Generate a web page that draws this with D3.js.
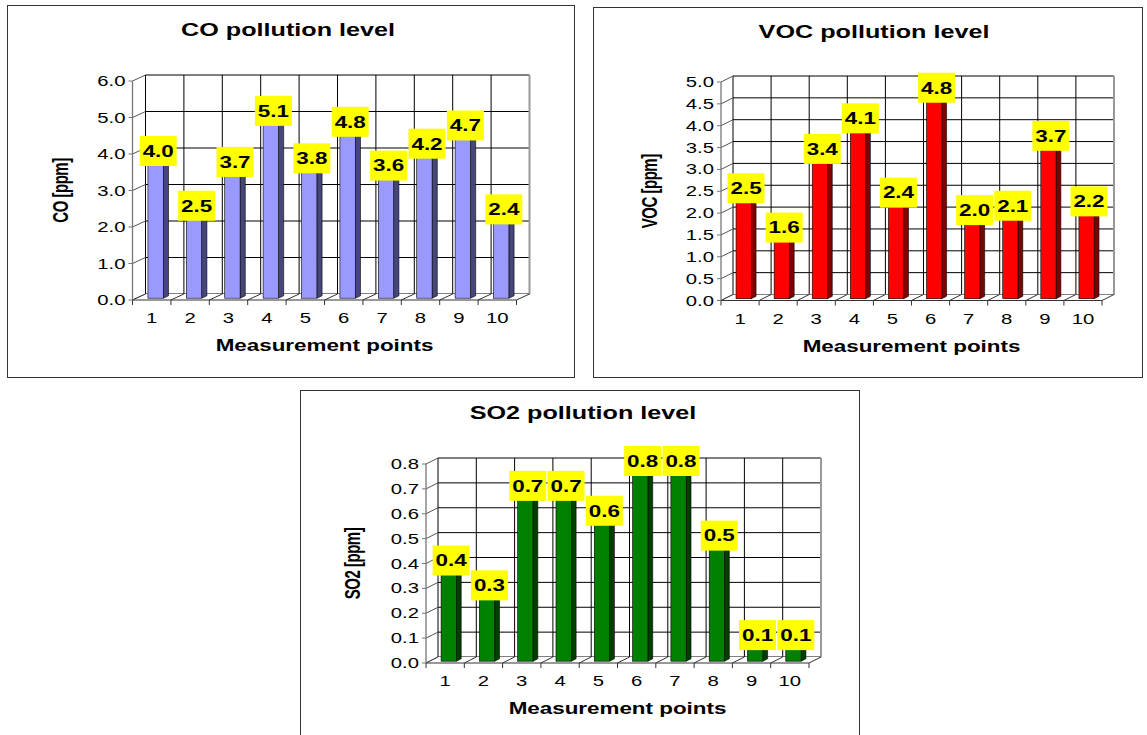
<!DOCTYPE html>
<html>
<head>
<meta charset="utf-8">
<script src="https://cdn.jsdelivr.net/npm/d3@7/dist/d3.min.js"></script>
<style>
  html, body { margin: 0; padding: 0; background: #fff; }
  svg { display: block; }
</style>
</head>
<body>
<svg id="fig" width="1147" height="735"></svg>
<script>
// Measurement points along the x axis
const points = ["1", "2", "3", "4", "5", "6", "7", "8", "9", "10"];

// Pollutant concentrations [ppm] per measurement point
const coValues  = [4.0, 2.5, 3.7, 5.1, 3.8, 4.8, 3.6, 4.2, 4.7, 2.4];
const vocValues = [2.5, 1.6, 3.4, 4.1, 2.4, 4.8, 2.0, 2.1, 3.7, 2.2];
const so2Values = [0.4, 0.3, 0.7, 0.7, 0.6, 0.8, 0.8, 0.5, 0.1, 0.1];

// Value-axis ticks
const coTicks  = [0, 1, 2, 3, 4, 5, 6];
const vocTicks = [0, 0.5, 1, 1.5, 2, 2.5, 3, 3.5, 4, 4.5, 5];
const so2Ticks = [0, 0.1, 0.2, 0.3, 0.4, 0.5, 0.6, 0.7, 0.8];

const xTitle = "Measurement points";
const fmt = d3.format(".1f");

// Text in these charts is drawn wide: glyphs are stretched horizontally
const SX = 1.4;
const FONT = "'Liberation Sans', Arial, Helvetica, sans-serif";

const panels = [
  {
    title: "CO pollution level", yTitle: "CO [ppm]",
    values: coValues, ticks: coTicks,
    frame: { x: 7.5, y: 5.5, w: 567, h: 372 },
    titleX: 288, titleY: 36, yTitleX: 63,
    axisX: 132.5, base: 300, top: 81, step: 38.4, dx: 13, dy: -6,
    front: "#9999ff", side: "#46467a", cap: "#bcbcff"
  },
  {
    title: "VOC pollution level", yTitle: "VOC [ppm]",
    values: vocValues, ticks: vocTicks,
    frame: { x: 593.5, y: 7.5, w: 549, h: 370 },
    titleX: 874, titleY: 38, yTitleX: 652,
    axisX: 721, base: 300.5, top: 82, step: 38.1, dx: 12, dy: -6,
    front: "#ff0000", side: "#800000", cap: "#ff6060"
  },
  {
    title: "SO2 pollution level", yTitle: "SO2 [ppm]",
    values: so2Values, ticks: so2Ticks,
    frame: { x: 300.5, y: 390.5, w: 559, h: 360 },
    titleX: 583, titleY: 419, yTitleX: 355,
    axisX: 426, base: 663, top: 464, step: 38.3, dx: 12, dy: -6,
    front: "#008000", side: "#003f00", cap: "#3aa03a"
  }
];

const svg = d3.select("#fig");

function wideText(g, x, y, str, size, weight, anchor) {
  return g.append("text")
    .attr("transform", `translate(${x},${y}) scale(${SX},1)`)
    .attr("text-anchor", anchor || "middle")
    .attr("font-family", FONT)
    .attr("font-size", size)
    .attr("font-weight", weight || "normal")
    .attr("fill", "#000")
    .text(str);
}

panels.forEach(p => {
  const g = svg.append("g");
  const W = p.step * points.length;
  const dx = p.dx, dy = p.dy;
  const ticksMax = p.ticks[p.ticks.length - 1];

  const x = d3.scaleBand()
    .domain(points)
    .range([p.axisX, p.axisX + W])
    .paddingInner(0.6)
    .paddingOuter(0.3);
  const y = d3.scaleLinear().domain([0, ticksMax]).range([p.base, p.top]);

  // chart frame
  g.append("rect")
    .attr("x", p.frame.x).attr("y", p.frame.y)
    .attr("width", p.frame.w).attr("height", p.frame.h)
    .attr("fill", "#fff").attr("stroke", "#333").attr("stroke-width", 1);

  // title
  wideText(g, p.titleX, p.titleY, p.title, 18, "bold");

  // back wall
  const bx0 = p.axisX + dx, bx1 = p.axisX + W + dx;
  g.append("rect")
    .attr("x", bx0).attr("y", y(ticksMax) + dy)
    .attr("width", W).attr("height", y(0) - y(ticksMax))
    .attr("fill", "#fff");
  g.selectAll(null).data(p.ticks).join("line")
    .attr("x1", bx0).attr("x2", bx1)
    .attr("y1", d => y(d) + dy).attr("y2", d => y(d) + dy)
    .attr("stroke", "#000").attr("stroke-width", 1);
  const bounds = d3.range(points.length + 1).map(i => p.axisX + i * p.step);
  g.selectAll(null).data(bounds).join("line")
    .attr("x1", d => d + dx).attr("x2", d => d + dx)
    .attr("y1", y(ticksMax) + dy).attr("y2", y(0) + dy)
    .attr("stroke", "#000").attr("stroke-width", 1);
  g.append("line")
    .attr("x1", bx1).attr("x2", bx1)
    .attr("y1", y(ticksMax) + dy).attr("y2", y(0) + dy)
    .attr("stroke", "#999").attr("stroke-width", 2);

  // side wall: diagonals from the value axis to the back wall
  g.selectAll(null).data(p.ticks).join("line")
    .attr("x1", p.axisX).attr("x2", p.axisX + dx)
    .attr("y1", d => y(d)).attr("y2", d => y(d) + dy)
    .attr("stroke", "#555").attr("stroke-width", 1);

  // floor
  g.append("path")
    .attr("d", `M${p.axisX},${p.base} L${p.axisX + W},${p.base} L${bx1},${p.base + dy} L${bx0},${p.base + dy} Z`)
    .attr("fill", "#fff").attr("stroke", "none");
  g.selectAll(null).data(bounds).join("line")
    .attr("x1", d => d).attr("x2", d => d + dx)
    .attr("y1", p.base).attr("y2", p.base + dy)
    .attr("stroke", "#333").attr("stroke-width", 1);
  g.selectAll(null).data(bounds).join("line")
    .attr("x1", d => d).attr("x2", d => d)
    .attr("y1", p.base).attr("y2", p.base + 5)
    .attr("stroke", "#333").attr("stroke-width", 1);
  g.append("line")
    .attr("x1", p.axisX).attr("x2", p.axisX + W)
    .attr("y1", p.base).attr("y2", p.base)
    .attr("stroke", "#333").attr("stroke-width", 1);

  // value axis
  g.append("line")
    .attr("x1", p.axisX).attr("x2", p.axisX)
    .attr("y1", y(0)).attr("y2", y(ticksMax))
    .attr("stroke", "#777").attr("stroke-width", 1.3);
  g.selectAll(null).data(p.ticks).join("line")
    .attr("x1", p.axisX - 4).attr("x2", p.axisX)
    .attr("y1", d => y(d)).attr("y2", d => y(d))
    .attr("stroke", "#777").attr("stroke-width", 1);
  p.ticks.forEach(t => wideText(g, p.axisX - 7, y(t) + 5, fmt(t), 14.5, "normal", "end"));

  // category labels
  points.forEach(c => wideText(g, x(c) + x.bandwidth() / 2, p.base + 23, c, 14.5));

  // axis titles
  wideText(g, p.axisX + W / 2, p.base + 51, xTitle, 16, "bold");
  const yMid = (y(0) + y(ticksMax)) / 2;
  g.append("text")
    .attr("transform", `translate(${p.yTitleX + 5},${yMid}) scale(1.45,1) rotate(-90)`)
    .attr("text-anchor", "middle")
    .attr("font-family", FONT)
    .attr("font-size", 15)
    .attr("font-weight", "bold")
    .attr("letter-spacing", -0.5)
    .text(p.yTitle);

  // 3-D bars: front face, right side face, top face
  const zf = 0.3, zb = 0.7, bw = x.bandwidth();
  const bars = g.selectAll(null).data(p.values.map((v, i) => ({ c: points[i], v }))).join("g");
  bars.append("path")
    .attr("d", d => {
      const x1 = x(d.c) + bw, yv = y(d.v);
      return `M${x1 + dx * zf},${yv + dy * zf} L${x1 + dx * zb},${yv + dy * zb} L${x1 + dx * zb},${p.base + dy * zb} L${x1 + dx * zf},${p.base + dy * zf} Z`;
    })
    .attr("fill", p.side).attr("stroke", "#000").attr("stroke-width", 0.6);
  bars.append("path")
    .attr("d", d => {
      const x0 = x(d.c), x1 = x0 + bw, yv = y(d.v);
      return `M${x0 + dx * zf},${yv + dy * zf} L${x1 + dx * zf},${yv + dy * zf} L${x1 + dx * zb},${yv + dy * zb} L${x0 + dx * zb},${yv + dy * zb} Z`;
    })
    .attr("fill", p.cap).attr("stroke", "#000").attr("stroke-width", 0.6);
  bars.append("rect")
    .attr("x", d => x(d.c) + dx * zf)
    .attr("y", d => y(d.v) + dy * zf)
    .attr("width", bw)
    .attr("height", d => y(0) - y(d.v))
    .attr("fill", p.front).attr("stroke", "#000").attr("stroke-width", 0.6);

  // value labels on yellow boxes
  const lw = 37, lh = 30;
  p.values.forEach((v, i) => {
    const cx = x(points[i]) + bw / 2 + dx * 0.5;
    const cy = y(v) + dy * 0.5;
    g.append("rect")
      .attr("x", cx - lw / 2).attr("y", cy - lh / 2)
      .attr("width", lw).attr("height", lh)
      .attr("fill", "#ffff00");
    wideText(g, cx, cy + 5.8, fmt(v), 16, "bold");
  });
});
</script>
</body>
</html>
